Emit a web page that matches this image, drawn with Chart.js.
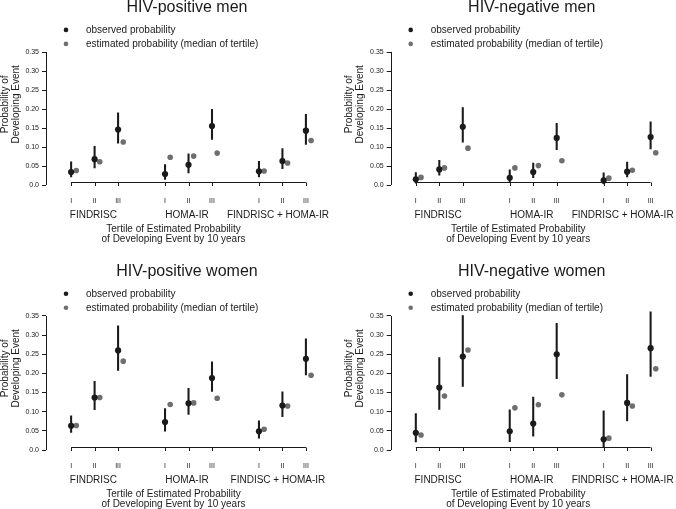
<!DOCTYPE html>
<html>
<head>
<meta charset="utf-8">
<script src="https://cdn.jsdelivr.net/npm/chart.js@4.4.1/dist/chart.umd.min.js"></script>
<style>
  body { margin: 0; background: #fff; }
  .panel { position: absolute; }
</style>
</head>
<body>
<div class="panel" style="left:0;top:0"><canvas id="c1" width="338" height="250"></canvas></div>
<div class="panel" style="left:338px;top:0"><canvas id="c2" width="338" height="250"></canvas></div>
<div class="panel" style="left:0;top:250px"><canvas id="c3" width="338" height="259"></canvas></div>
<div class="panel" style="left:338px;top:250px"><canvas id="c4" width="338" height="259"></canvas></div>
<script>
const tertiles = ['I', 'II', 'III'];
const groups = ['FINDRISC', 'HOMA-IR', 'FINDRISC + HOMA-IR'];
const groupsPosWomen = ['FINDRISC', 'HOMA-IR', 'FINDISC + HOMA-IR'];
const yTicks = [0, 0.05, 0.10, 0.15, 0.20, 0.25, 0.30, 0.35];

// HIV-positive men
const posMenObs = [0.034, 0.068, 0.146, 0.029, 0.053, 0.155, 0.036, 0.063, 0.143];
const posMenLo  = [0.021, 0.045, 0.110, 0.015, 0.032, 0.120, 0.021, 0.043, 0.107];
const posMenHi  = [0.061, 0.102, 0.190, 0.054, 0.082, 0.199, 0.062, 0.096, 0.186];
const posMenEst = [0.038, 0.061, 0.113, 0.073, 0.076, 0.084, 0.037, 0.058, 0.117];

// HIV-negative men
const negMenObs = [0.015, 0.041, 0.153, 0.019, 0.034, 0.124, 0.012, 0.035, 0.126];
const negMenLo  = [0.005, 0.026, 0.113, 0.008, 0.019, 0.093, 0.003, 0.021, 0.095];
const negMenHi  = [0.033, 0.065, 0.204, 0.040, 0.058, 0.162, 0.032, 0.060, 0.166];
const negMenEst = [0.020, 0.045, 0.097, 0.045, 0.051, 0.064, 0.018, 0.039, 0.085];

// HIV-positive women
const posWomenObs = [0.063, 0.137, 0.260, 0.073, 0.122, 0.188, 0.049, 0.116, 0.238];
const posWomenLo  = [0.046, 0.105, 0.208, 0.049, 0.093, 0.153, 0.031, 0.087, 0.196];
const posWomenHi  = [0.089, 0.179, 0.324, 0.108, 0.161, 0.230, 0.076, 0.152, 0.290];
const posWomenEst = [0.064, 0.137, 0.232, 0.119, 0.123, 0.135, 0.054, 0.115, 0.195];

// HIV-negative women
const negWomenObs = [0.045, 0.163, 0.244, 0.049, 0.069, 0.250, 0.028, 0.123, 0.266];
const negWomenLo  = [0.021, 0.106, 0.166, 0.022, 0.036, 0.186, 0.009, 0.076, 0.192];
const negWomenHi  = [0.095, 0.241, 0.351, 0.105, 0.138, 0.331, 0.102, 0.197, 0.361];
const negWomenEst = [0.039, 0.141, 0.261, 0.110, 0.118, 0.144, 0.031, 0.115, 0.212];

const FONT = '"Liberation Sans", Arial, Helvetica, sans-serif';
const INK = '#1a1a1a';
const GREY = '#6f6f6f';
const EST_SHIFT = 0.22;
const GROUP_NUDGE = [-1.2, -1.5, -4.5];

// x position of each tertile: groups separated by one empty slot
const xPos = [];
groups.forEach((g, gi) => tertiles.forEach((t, ti) => xPos.push(gi * 4 + ti + 1)));

// R-like axes, title, legend and axis titles
const rDecor = {
  id: 'rDecor',
  afterDraw(chart) {
    const o = chart.options.plugins.rDecor;
    const { ctx, chartArea: a, scales: { x, y } } = chart;
    ctx.save();
    ctx.strokeStyle = INK;
    ctx.fillStyle = INK;
    ctx.lineWidth = 1;

    // y axis line 0 .. 0.35
    const xl = Math.round(a.left) + 0.5;
    ctx.beginPath();
    ctx.moveTo(xl, y.getPixelForValue(0));
    ctx.lineTo(xl, y.getPixelForValue(0.35));
    ctx.stroke();

    // x axis line with downward ticks
    const ya = Math.round(y.getPixelForValue(0.007)) + 0.5;
    ctx.beginPath();
    ctx.moveTo(x.getPixelForValue(xPos[0]), ya);
    ctx.lineTo(x.getPixelForValue(xPos[xPos.length - 1]), ya);
    xPos.forEach(v => {
      const px = Math.round(x.getPixelForValue(v)) + 0.5;
      ctx.moveTo(px, ya);
      ctx.lineTo(px, ya + 3.5);
    });
    ctx.stroke();

    // title
    ctx.textAlign = 'center';
    ctx.textBaseline = 'middle';
    ctx.font = '16px ' + FONT;
    ctx.fillText(o.title, a.left + 141, a.top - 37);

    // legend
    ctx.font = '10px ' + FONT;
    ctx.textAlign = 'left';
    [['observed probability', INK, -14.5], ['estimated probability (median of tertile)', GREY, -0.5]].forEach(([txt, col, dy]) => {
      ctx.fillStyle = col;
      ctx.beginPath();
      ctx.arc(a.left + 20, a.top + dy, 2.3, 0, Math.PI * 2);
      ctx.fill();
      ctx.fillStyle = INK;
      ctx.fillText(txt, a.left + 40, a.top + dy);
    });

    // group labels
    ctx.textAlign = 'center';
    o.groups.forEach((g, gi) => {
      ctx.fillText(g, x.getPixelForValue(xPos[gi * 3 + 1]) + GROUP_NUDGE[gi], a.bottom + 30);
    });

    // x title
    ctx.fillText('Tertile of Estimated Probability', a.left + 127.5, a.bottom + 44);
    ctx.fillText('of Developing Event by 10 years', a.left + 127.5, a.bottom + 54);

    // y title
    ctx.translate(a.left - 41, a.top + 60);
    ctx.rotate(-Math.PI / 2);
    ctx.fillText('Probability of', 0, 0);
    ctx.fillText('Developing Event', 0, 11);
    ctx.restore();
  }
};

function makePanel(id, title, grp, obs, lo, hi, est, padLeft, bottomRow) {
  const xH = bottomRow ? 59 : 65;
  const padTop = bottomRow ? 58.3 : 44.4;
  new Chart(document.getElementById(id), {
    type: 'scatter',
    data: {
      datasets: [
        {
          type: 'bar',
          label: 'interval',
          data: xPos.map((v, i) => ({ x: v, y: [lo[i], hi[i]] })),
          backgroundColor: INK,
          barThickness: 1.4,
          grouped: false,
          order: 3
        },
        {
          label: 'estimated probability (median of tertile)',
          data: xPos.map((v, i) => ({ x: v + EST_SHIFT, y: est[i] })),
          backgroundColor: GREY,
          borderWidth: 0,
          pointRadius: 2.8,
          order: 2
        },
        {
          label: 'observed probability',
          data: xPos.map((v, i) => ({ x: v, y: obs[i] })),
          backgroundColor: INK,
          borderWidth: 0,
          pointRadius: 3.1,
          order: 1
        }
      ]
    },
    options: {
      responsive: false,
      animation: false,
      layout: { padding: { left: padLeft, right: 338 - padLeft - 46 - 274, top: padTop, bottom: 0 } },
      plugins: {
        legend: { display: false },
        tooltip: { enabled: false },
        rDecor: { title: title, groups: grp }
      },
      scales: {
        x: {
          type: 'linear',
          min: -0.07,
          max: 11.6,
          offset: false,
          afterBuildTicks: s => { s.ticks = xPos.map(v => ({ value: v })); },
          afterFit: s => { s.height = xH; },
          grid: { display: false, drawTicks: false },
          border: { display: false },
          ticks: {
            autoSkip: false,
            maxRotation: 0,
            padding: 12,
            color: INK,
            font: { family: FONT, size: 7 },
            callback: (v, i) => tertiles[i % 3]
          }
        },
        y: {
          min: 0,
          max: 0.37,
          afterBuildTicks: s => { s.ticks = yTicks.map(v => ({ value: v })); },
          afterFit: s => { s.width = 46; },
          grid: { display: true, drawOnChartArea: false, drawTicks: true, tickLength: 4, color: INK },
          border: { display: false },
          ticks: {
            padding: 3,
            color: INK,
            font: { family: FONT, size: 7 },
            callback: v => v === 0 ? '0.0' : v.toFixed(2)
          }
        }
      }
    },
    plugins: [rDecor]
  });
}

makePanel('c1', 'HIV-positive men', groups, posMenObs, posMenLo, posMenHi, posMenEst, 0, false);
makePanel('c2', 'HIV-negative men', groups, negMenObs, negMenLo, negMenHi, negMenEst, 6.7, false);
makePanel('c3', 'HIV-positive women', groupsPosWomen, posWomenObs, posWomenLo, posWomenHi, posWomenEst, 0, true);
makePanel('c4', 'HIV-negative women', groups, negWomenObs, negWomenLo, negWomenHi, negWomenEst, 6.7, true);
</script>
</body>
</html>
